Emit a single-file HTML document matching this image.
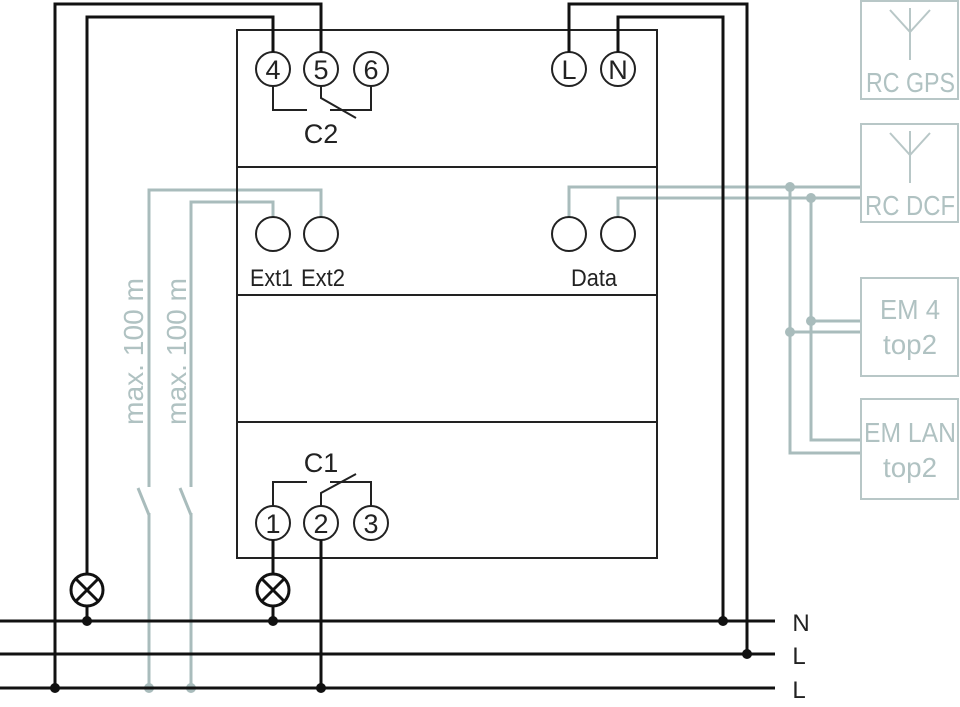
<!DOCTYPE html>
<html><head><style>body{margin:0;background:#fff}svg{display:block}text{font-family:"Liberation Sans Narrow","Liberation Sans",sans-serif}</style></head>
<body>
<svg width="960" height="707" viewBox="0 0 960 707">
<g fill="none" stroke="#a9bcbc" stroke-width="3">
<polyline points="321,217 321,190 149,190 149,487"/>
<polyline points="273,217 273,202 191,202 191,487"/>
<line x1="138" y1="488" x2="149" y2="515"/><line x1="149" y1="513" x2="149" y2="688"/>
<line x1="180" y1="488" x2="191" y2="515"/><line x1="191" y1="513" x2="191" y2="688"/>
<polyline points="569,217 569,187 860,187"/>
<polyline points="618,217 618,198 860,198"/>
<polyline points="790,187 790,453 860,453"/>
<polyline points="811,198 811,440 860,440"/>
<line x1="790" y1="332" x2="860" y2="332"/><line x1="811" y1="321" x2="860" y2="321"/>
</g>
<g fill="none" stroke="#b8c7c7" stroke-width="2">
<rect x="861" y="1" width="97" height="98"/>
<rect x="861" y="124" width="97" height="98"/>
<rect x="861" y="278" width="97" height="98"/>
<rect x="861" y="399" width="97" height="100"/>
<polyline points="890,10 910,32 930,10"/><line x1="910" y1="8" x2="910" y2="60"/>
<polyline points="890,133 910,155 930,133"/><line x1="910" y1="131" x2="910" y2="183"/>
</g>
<g fill="#a9bcbc"><circle cx="790" cy="187" r="5"/><circle cx="811" cy="198" r="5"/><circle cx="811" cy="321" r="5"/><circle cx="790" cy="332" r="5"/><circle cx="149" cy="688" r="5"/><circle cx="191" cy="688" r="5"/></g>
<g fill="#b0c2c2" font-size="28">
<text x="866" y="92" textLength="89" lengthAdjust="spacingAndGlyphs">RC GPS</text>
<text x="865" y="215" textLength="90" lengthAdjust="spacingAndGlyphs">RC DCF</text>
<text x="880" y="319" textLength="60" lengthAdjust="spacingAndGlyphs">EM 4</text>
<text x="883" y="354" textLength="54" lengthAdjust="spacingAndGlyphs">top2</text>
<text x="864" y="442" textLength="92" lengthAdjust="spacingAndGlyphs">EM LAN</text>
<text x="883" y="477" textLength="54" lengthAdjust="spacingAndGlyphs">top2</text>
<text transform="translate(143,425) rotate(-90)" textLength="147" lengthAdjust="spacingAndGlyphs">max. 100 m</text>
<text transform="translate(186,425) rotate(-90)" textLength="147" lengthAdjust="spacingAndGlyphs">max. 100 m</text>
</g>
<g fill="none" stroke="#222" stroke-width="2">
<rect x="237" y="30" width="420" height="528"/>
<line x1="237" y1="167" x2="657" y2="167"/><line x1="237" y1="295" x2="657" y2="295"/><line x1="237" y1="422" x2="657" y2="422"/>
<circle cx="273" cy="69" r="17"/><circle cx="321" cy="69" r="17"/><circle cx="371" cy="69" r="17"/>
<circle cx="569" cy="69" r="17"/><circle cx="618" cy="69" r="17"/>
<circle cx="273" cy="234" r="17"/><circle cx="321" cy="234" r="17"/><circle cx="569" cy="234" r="17"/><circle cx="618" cy="234" r="17"/>
<circle cx="273" cy="523" r="17"/><circle cx="321" cy="523" r="17"/><circle cx="371" cy="523" r="17"/>
<polyline points="273,86 273,110 307,110"/><polyline points="321,86 321,98 356,118"/><polyline points="371,86 371,110 330,110"/>
<polyline points="273,506 273,482 307,482"/><polyline points="321,506 321,493 356,474"/><polyline points="371,506 371,482 330,482"/>
</g>
<g fill="none" stroke="#111" stroke-width="3">
<line x1="0" y1="621" x2="775" y2="621"/><line x1="0" y1="654" x2="775" y2="654"/><line x1="0" y1="688" x2="775" y2="688"/>
<polyline points="55,688 55,4 321,4 321,52"/>
<polyline points="87,573 87,17 273,17 273,52"/>
<line x1="87" y1="607" x2="87" y2="621"/>
<polyline points="569,52 569,4 747,4 747,654"/>
<polyline points="618,52 618,17 723,17 723,621"/>
<line x1="273" y1="540" x2="273" y2="573"/><line x1="273" y1="607" x2="273" y2="621"/>
<line x1="321" y1="540" x2="321" y2="688"/>
<circle cx="87" cy="590" r="16"/><circle cx="273" cy="590" r="16"/>
<path d="M76,579 L98,601 M98,579 L76,601 M262,579 L284,601 M284,579 L262,601"/>
</g>
<g fill="#111"><circle cx="87" cy="621" r="5"/><circle cx="273" cy="621" r="5"/><circle cx="723" cy="621" r="5"/><circle cx="747" cy="654" r="5"/><circle cx="55" cy="688" r="5"/><circle cx="321" cy="688" r="5"/></g>
<g fill="#222" font-size="27" text-anchor="middle">
<text x="273" y="79">4</text><text x="321" y="79">5</text><text x="371" y="79">6</text>
<text x="569" y="79">L</text><text x="618" y="79">N</text>
<text x="273" y="533">1</text><text x="321" y="533">2</text><text x="371" y="533">3</text>
<text x="321" y="143">C2</text><text x="321" y="472">C1</text>
<text x="801" y="631" font-size="24">N</text><text x="799" y="664" font-size="24">L</text><text x="799" y="698" font-size="24">L</text>
</g>
<g fill="#222" font-size="24">
<text x="250" y="286" textLength="43" lengthAdjust="spacingAndGlyphs">Ext1</text>
<text x="301" y="286" textLength="44" lengthAdjust="spacingAndGlyphs">Ext2</text>
<text x="571" y="286" textLength="46" lengthAdjust="spacingAndGlyphs">Data</text>
</g>
</svg>
</body></html>
